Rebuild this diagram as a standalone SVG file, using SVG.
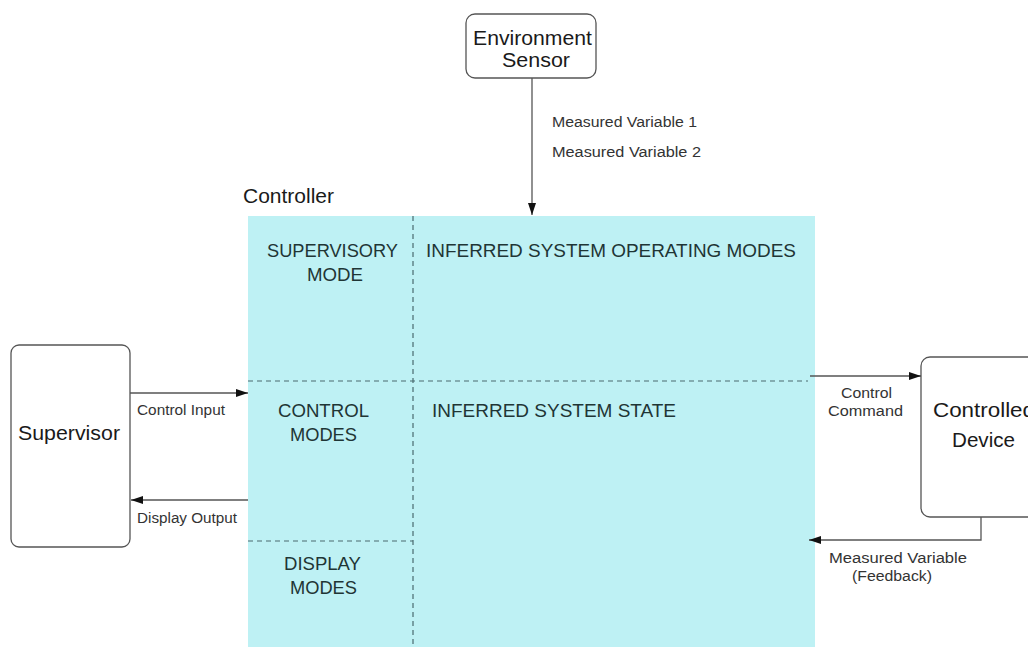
<svg xmlns="http://www.w3.org/2000/svg" width="1028" height="647" viewBox="0 0 1028 647">
  <style>
    .box { fill: #ffffff; stroke: #555555; stroke-width: 1.3; }
    .title { font-family: "Liberation Sans", Arial, sans-serif; font-size: 20px; fill: #1a1a1a; }
    .lbl { font-family: "Liberation Sans", Arial, sans-serif; font-size: 14px; fill: #333333; }
    .zone { font-family: "Liberation Sans", Arial, sans-serif; font-size: 18px; fill: #1f3535; }
    .dash { stroke: #4a6a6e; stroke-width: 1.2; stroke-dasharray: 5 4; fill: none; }
    .wire { stroke: #555555; stroke-width: 1.3; fill: none; }
  </style>
  <defs>
    <marker id="arrow" viewBox="0 0 12 8" refX="12" refY="4" markerWidth="12" markerHeight="8" markerUnits="userSpaceOnUse" orient="auto">
      <path d="M0,0 L12,4 L0,8 Z" fill="#111111"/>
    </marker>
  </defs>

  <rect width="1028" height="647" fill="#ffffff"/>

  <!-- Controller block with its mode partitions -->
  <g id="controller">
    <text class="title" x="243" y="203" textLength="91" lengthAdjust="spacingAndGlyphs">Controller</text>
    <rect x="248" y="216" width="567" height="431" fill="#bef1f4"/>
    <line class="dash" x1="413" y1="216" x2="413" y2="647"/>
    <line class="dash" x1="248" y1="381" x2="808" y2="381"/>
    <line class="dash" x1="248" y1="541" x2="413" y2="541"/>
    <text class="zone" x="267" y="257" textLength="131" lengthAdjust="spacingAndGlyphs">SUPERVISORY</text>
    <text class="zone" x="307" y="281" textLength="56" lengthAdjust="spacingAndGlyphs">MODE</text>
    <text class="zone" x="426" y="257" textLength="370" lengthAdjust="spacingAndGlyphs">INFERRED SYSTEM OPERATING MODES</text>
    <text class="zone" x="278" y="417" textLength="91" lengthAdjust="spacingAndGlyphs">CONTROL</text>
    <text class="zone" x="290" y="441" textLength="67" lengthAdjust="spacingAndGlyphs">MODES</text>
    <text class="zone" x="432" y="417" textLength="244" lengthAdjust="spacingAndGlyphs">INFERRED SYSTEM STATE</text>
    <text class="zone" x="284" y="570" textLength="77" lengthAdjust="spacingAndGlyphs">DISPLAY</text>
    <text class="zone" x="290" y="594" textLength="67" lengthAdjust="spacingAndGlyphs">MODES</text>
  </g>

  <g id="environment-sensor">
    <rect class="box" x="466" y="14" width="130" height="64" rx="9"/>
    <text class="title" x="473" y="45" textLength="119" lengthAdjust="spacingAndGlyphs">Environment</text>
    <text class="title" x="502" y="67" textLength="68" lengthAdjust="spacingAndGlyphs">Sensor</text>
  </g>

  <g id="supervisor">
    <rect class="box" x="11" y="345" width="119" height="202" rx="8"/>
    <text class="title" x="18" y="440" textLength="102" lengthAdjust="spacingAndGlyphs">Supervisor</text>
  </g>

  <g id="controlled-device">
    <rect class="box" x="921" y="357" width="120" height="160" rx="9"/>
    <text class="title" x="933" y="417" textLength="102" lengthAdjust="spacingAndGlyphs">Controlled</text>
    <text class="title" x="952" y="447" textLength="63" lengthAdjust="spacingAndGlyphs">Device</text>
  </g>

  <!-- Signal flows -->
  <g id="connectors">
    <line class="wire" x1="532" y1="78" x2="532" y2="215" marker-end="url(#arrow)"/>
    <text class="lbl" x="552" y="127" textLength="145" lengthAdjust="spacingAndGlyphs">Measured Variable 1</text>
    <text class="lbl" x="552" y="157" textLength="149" lengthAdjust="spacingAndGlyphs">Measured Variable 2</text>

    <line class="wire" x1="130" y1="393" x2="248" y2="393" marker-end="url(#arrow)"/>
    <text class="lbl" x="137" y="415" textLength="88" lengthAdjust="spacingAndGlyphs">Control Input</text>

    <line class="wire" x1="248" y1="500" x2="131" y2="500" marker-end="url(#arrow)"/>
    <text class="lbl" x="137" y="523" textLength="100" lengthAdjust="spacingAndGlyphs">Display Output</text>

    <line class="wire" x1="810" y1="376" x2="921" y2="376" marker-end="url(#arrow)"/>
    <text class="lbl" x="841" y="398" textLength="51" lengthAdjust="spacingAndGlyphs">Control</text>
    <text class="lbl" x="828" y="416" textLength="75" lengthAdjust="spacingAndGlyphs">Command</text>

    <polyline class="wire" points="981,517 981,540 809,540" marker-end="url(#arrow)"/>
    <text class="lbl" x="829" y="563" textLength="138" lengthAdjust="spacingAndGlyphs">Measured Variable</text>
    <text class="lbl" x="852" y="581" textLength="80" lengthAdjust="spacingAndGlyphs">(Feedback)</text>
  </g>
</svg>
